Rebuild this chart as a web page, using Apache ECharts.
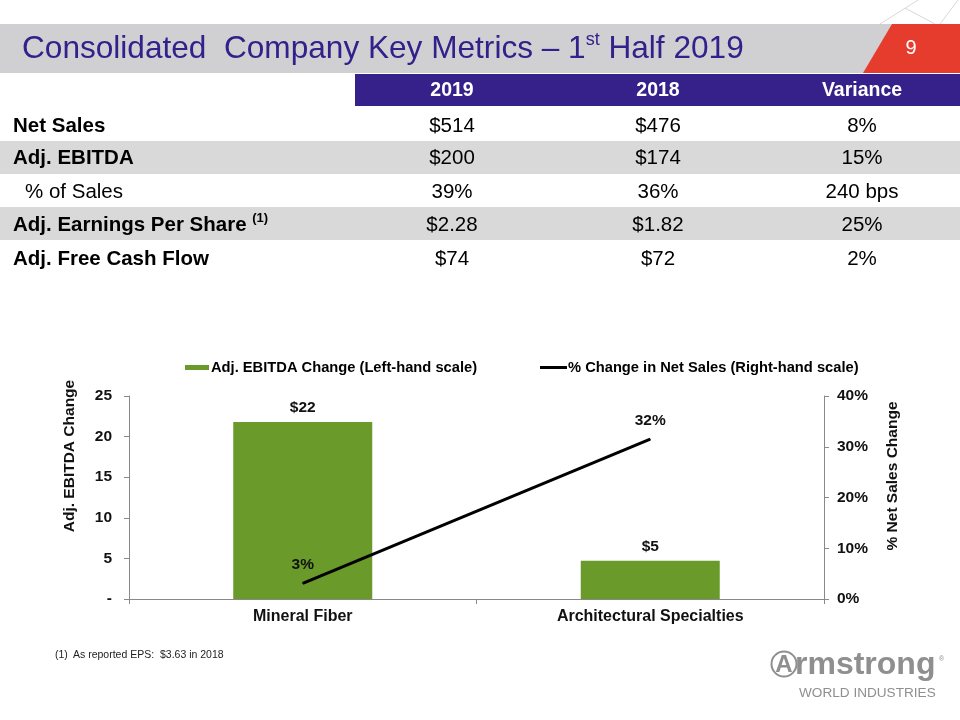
<!DOCTYPE html>
<html>
<head>
<meta charset="utf-8">
<script src="https://cdn.jsdelivr.net/npm/echarts@6/dist/echarts.min.js"></script>
<style>html,body{margin:0;padding:0;background:#fff;}#main{width:960px;height:720px;}</style>
</head>
<body>
<div id="main"></div>
<script>
// ---- Data ----
const categories = ['Mineral Fiber', 'Architectural Specialties'];
const ebitdaChange = [21.8, 4.7];
const ebitdaLabels = ['$22', '$5'];
const netSalesChange = [3.1, 31.5];
const netSalesLabels = ['3%', '32%'];

const tableColumns = ['2019', '2018', 'Variance'];
const rowLabels = ['Net Sales', 'Adj. EBITDA', '% of Sales', 'Adj. Earnings Per Share', 'Adj. Free Cash Flow'];
const col2019 = ['$514', '$200', '39%', '$2.28', '$74'];
const col2018 = ['$476', '$174', '36%', '$1.82', '$72'];
const colVariance = ['8%', '15%', '240 bps', '25%', '2%'];

const FONT = 'Liberation Sans, Arial, sans-serif';
const PURPLE = '#33208A';
const GREEN = '#6A9A29';
const CF = 15.5; // chart font size

// ---- Table graphics ----
const colX = [452, 658, 862];
const rowY = [126, 158, 192, 225, 259];
const rowBold = [true, true, false, true, true];
const rowIndent = [13, 13, 25, 13, 13];
const tableEls = [];
tableEls.push({type:'rect', shape:{x:355, y:74, width:605, height:32}, style:{fill:'#36208A'}});
tableEls.push({type:'rect', shape:{x:0, y:141, width:960, height:33}, style:{fill:'#D9D9D9'}});
tableEls.push({type:'rect', shape:{x:0, y:207, width:960, height:33}, style:{fill:'#D9D9D9'}});
tableColumns.forEach((c, i) => {
  tableEls.push({type:'text', x:colX[i], y:91, style:{text:c, fill:'#fff', font:'bold 19.5px ' + FONT, textAlign:'center', textVerticalAlign:'middle'}});
});
const cols = [col2019, col2018, colVariance];
rowLabels.forEach((lab, r) => {
  if (r === 3) {
    tableEls.push({type:'text', x:rowIndent[r], y:rowY[r], style:{
      text:'{a|' + lab + ' }{s|(1)}', textVerticalAlign:'middle',
      rich:{a:{font:'bold 20.5px ' + FONT, fill:'#000', lineHeight:26}, s:{font:'bold 13px ' + FONT, fill:'#000', verticalAlign:'top', lineHeight:26}}
    }});
  } else {
    tableEls.push({type:'text', x:rowIndent[r], y:rowY[r], style:{text:lab, fill:'#000', font:(rowBold[r] ? 'bold ' : '') + '20.5px ' + FONT, textVerticalAlign:'middle'}});
  }
  cols.forEach((col, c) => {
    tableEls.push({type:'text', x:colX[c], y:rowY[r], style:{text:col[r], fill:'#000', font:'20.5px ' + FONT, textAlign:'center', textVerticalAlign:'middle'}});
  });
});

// ---- Header graphics ----
const headerEls = [
  {type:'line', shape:{x1:880, y1:24, x2:918, y2:0}, style:{stroke:'#d8d8d8', lineWidth:1}},
  {type:'line', shape:{x1:905, y1:8, x2:935, y2:24}, style:{stroke:'#d8d8d8', lineWidth:1}},
  {type:'line', shape:{x1:940, y1:24, x2:958, y2:0}, style:{stroke:'#d8d8d8', lineWidth:1}},
  {type:'rect', shape:{x:0, y:24, width:892, height:49}, style:{fill:'#D0D0D2'}},
  {type:'polygon', shape:{points:[[892,24],[960,24],[960,73],[863,73]]}, style:{fill:'#E53C2E'}},
  {type:'text', x:22, y:49, style:{
    text:'{a|Consolidated  Company Key Metrics – 1}{s|st}{a| Half 2019}', textVerticalAlign:'middle',
    rich:{a:{font:'31.6px ' + FONT, fill:PURPLE, lineHeight:36}, s:{font:'18px ' + FONT, fill:PURPLE, verticalAlign:'top', lineHeight:36}}
  }},
  {type:'text', x:911, y:48, style:{text:'9', fill:'#fff', font:'20px ' + FONT, textAlign:'center', textVerticalAlign:'middle'}}
];

// ---- Axis names, footnote, logo ----
const otherEls = [
  {type:'text', x:70, y:456, rotation:Math.PI/2, style:{text:'Adj. EBITDA Change', fill:'#111', font:'bold ' + CF + 'px ' + FONT, textAlign:'center', textVerticalAlign:'middle'}},
  {type:'text', x:893, y:476, rotation:Math.PI/2, style:{text:'% Net Sales Change', fill:'#111', font:'bold ' + CF + 'px ' + FONT, textAlign:'center', textVerticalAlign:'middle'}},
  {type:'text', x:55, y:655, style:{text:'(1)', fill:'#222', font:'10.5px ' + FONT, textVerticalAlign:'middle'}},
  {type:'text', x:73, y:655, style:{text:'As reported EPS:  $3.63 in 2018', fill:'#222', font:'10.5px ' + FONT, textVerticalAlign:'middle'}},
  {type:'circle', shape:{cx:784, cy:664, r:12.5}, style:{fill:'none', stroke:'#8F8F8F', lineWidth:2}},
  {type:'text', x:784, y:665, style:{text:'A', fill:'#8F8F8F', font:'bold 24px ' + FONT, textAlign:'center', textVerticalAlign:'middle'}},
  {type:'text', x:795, y:665, style:{text:'rmstrong', fill:'#8F8F8F', font:'bold 32px ' + FONT, textVerticalAlign:'middle'}},
  {type:'text', x:939, y:659, style:{text:'®', fill:'#8F8F8F', font:'7px ' + FONT, textVerticalAlign:'middle'}},
  {type:'text', x:799, y:693, style:{text:'WORLD INDUSTRIES', fill:'#8F8F8F', font:'13.6px ' + FONT, textVerticalAlign:'middle'}}
];

const chart = echarts.init(document.getElementById('main'), null, {renderer:'canvas'});
chart.setOption({
  backgroundColor:'#fff',
  animation:false,
  textStyle:{fontFamily:FONT},
  graphic:{elements:[].concat(headerEls, tableEls, otherEls)},
  legend:[
    {left:185, top:360, padding:0, itemWidth:24, itemHeight:5, icon:'rect', data:['Adj. EBITDA Change (Left-hand scale)'],
     textStyle:{fontFamily:FONT, fontWeight:'bold', fontSize:14.7, color:'#000', padding:[0,0,0,-3]}},
    {left:540, top:360, padding:0, itemWidth:27, itemHeight:3, icon:'rect', data:['% Change in Net Sales (Right-hand scale)'],
     textStyle:{fontFamily:FONT, fontWeight:'bold', fontSize:14.7, color:'#000', padding:[0,0,0,-4]}}
  ],
  grid:{left:129, right:136, top:396, bottom:121, containLabel:false},
  xAxis:{
    type:'category', data:categories,
    axisLine:{lineStyle:{color:'#898989', width:1}},
    axisTick:{show:true, length:5, lineStyle:{color:'#898989'}},
    axisLabel:{fontFamily:FONT, fontWeight:'bold', fontSize:16, color:'#111', margin:10}
  },
  yAxis:[
    {type:'value', min:0, max:25, interval:5, position:'left',
     axisLine:{show:true, lineStyle:{color:'#898989'}},
     axisTick:{show:true, length:5, lineStyle:{color:'#898989'}},
     splitLine:{show:false},
     axisLabel:{fontFamily:FONT, fontWeight:'bold', fontSize:CF, color:'#111', margin:17, formatter:v => v === 0 ? '-' : String(v)}},
    {type:'value', min:0, max:40, interval:10, position:'right',
     axisLine:{show:true, lineStyle:{color:'#898989'}},
     axisTick:{show:true, length:5, lineStyle:{color:'#898989'}},
     splitLine:{show:false},
     axisLabel:{fontFamily:FONT, fontWeight:'bold', fontSize:CF, color:'#111', margin:13, formatter:v => v + '%'}}
  ],
  series:[
    {name:'Adj. EBITDA Change (Left-hand scale)', type:'bar', yAxisIndex:0, data:ebitdaChange, barWidth:'40%',
     itemStyle:{color:GREEN},
     label:{show:true, position:'top', distance:6, fontFamily:FONT, fontWeight:'bold', fontSize:CF, color:'#111',
            formatter:p => ebitdaLabels[p.dataIndex]}},
    {name:'% Change in Net Sales (Right-hand scale)', type:'line', yAxisIndex:1, data:netSalesChange,
     symbol:'circle', symbolSize:1, showSymbol:true,
     itemStyle:{color:'#000'}, lineStyle:{color:'#000', width:3},
     label:{show:true, position:'top', distance:10, fontFamily:FONT, fontWeight:'bold', fontSize:CF, color:'#111',
            formatter:p => netSalesLabels[p.dataIndex]}}
  ]
});
</script>
</body>
</html>
